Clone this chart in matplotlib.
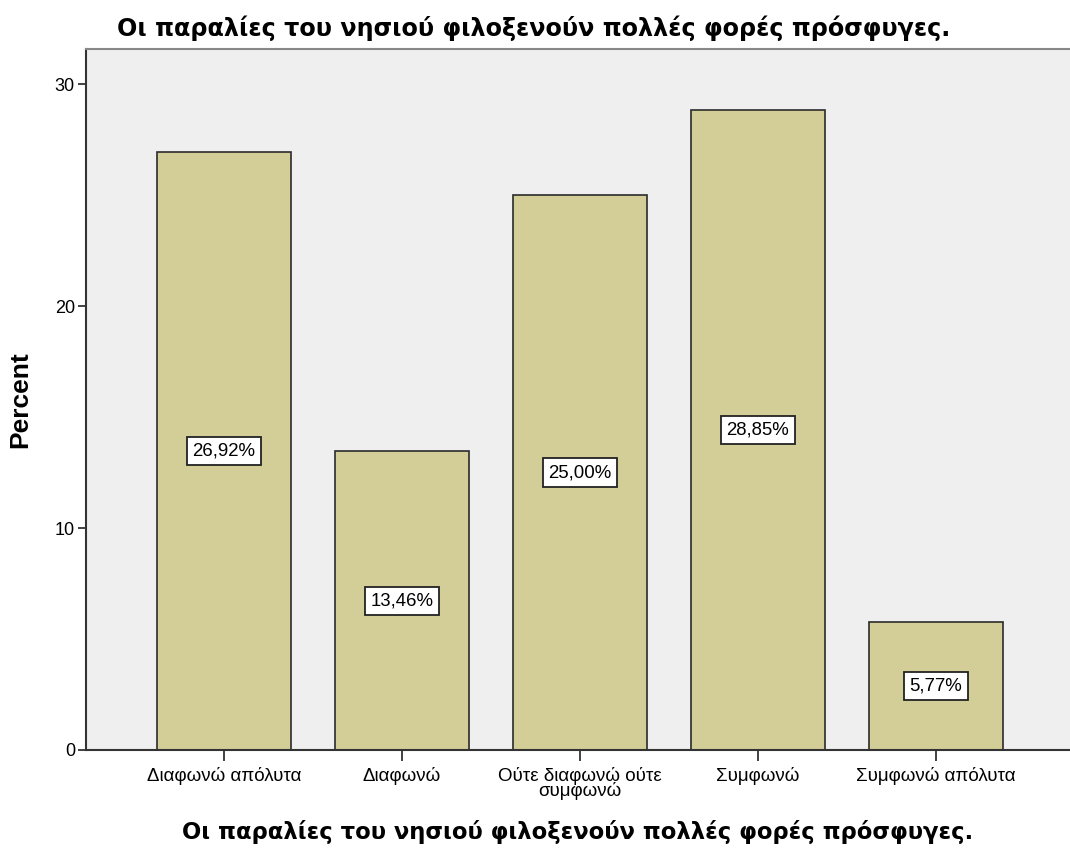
import matplotlib
matplotlib.use("Agg")
import matplotlib.pyplot as plt
import numpy as np

categories = ["Διαφωνώ απόλυτα", "Διαφωνώ", "Ούτε διαφωνώ ούτε\nσυμφωνώ", "Συμφωνώ", "Συμφωνώ απόλυτα"]
percents = [26.92, 13.46, 25.00, 28.85, 5.77]
value_labels = ["26,92%", "13,46%", "25,00%", "28,85%", "5,77%"]
yticks = [0, 10, 20, 30]

title = "Οι παραλίες του νησιού φιλοξενούν πολλές φορές πρόσφυγες."

fig = plt.figure(figsize=(10.7, 8.5), dpi=100)
ax = fig.add_axes([86 / 1070, 100 / 850, 984 / 1070, 701 / 850])
ax.set_facecolor("#efefef")

x = np.arange(len(categories))
ax.bar(x, percents, width=0.753, color="#d3ce97", edgecolor="#2b2b2b", linewidth=1.2, zorder=2)

for xi, v, lab in zip(x, percents, value_labels):
    ax.text(xi, v / 2, lab, ha="center", va="center", fontsize=13.4, family="Liberation Sans",
            bbox=dict(boxstyle="square,pad=0.3", fc="white", ec="#222222", lw=1.3), zorder=3)

ax.set_xlim(-0.775, 4.753)
ax.set_ylim(0, 31.58)
ax.set_yticks(yticks)
ax.set_xticks(x)
ax.set_xticklabels(categories, fontsize=13.5, family="Liberation Sans", linespacing=0.8)
ax.tick_params(axis="y", labelsize=13, length=6, width=1.3, color="#333333", pad=2)
for t in ax.get_yticklabels():
    t.set_family("Liberation Sans")
ax.tick_params(axis="x", length=8, width=1.3, color="#333333", pad=4)

for s in ["top", "bottom", "left"]:
    ax.spines[s].set_color("#333333")
    ax.spines[s].set_linewidth(1.5)
ax.spines["right"].set_visible(False)
ax.spines["top"].set_color("#888888")

ax.set_ylabel("Percent", fontsize=19, fontweight="bold", family="Liberation Sans")
ax.yaxis.set_label_coords(-54 / 984, 0.5)
ax.set_xlabel(title, fontsize=16.3, fontweight="bold", family="DejaVu Sans")
ax.xaxis.set_label_coords(0.5, -70 / 701)
fig.text(534 / 1070, 1 - 28 / 850, title, ha="center", va="center", fontsize=17.2,
         fontweight="bold", family="DejaVu Sans")

fig.savefig("out.png", dpi=100)
